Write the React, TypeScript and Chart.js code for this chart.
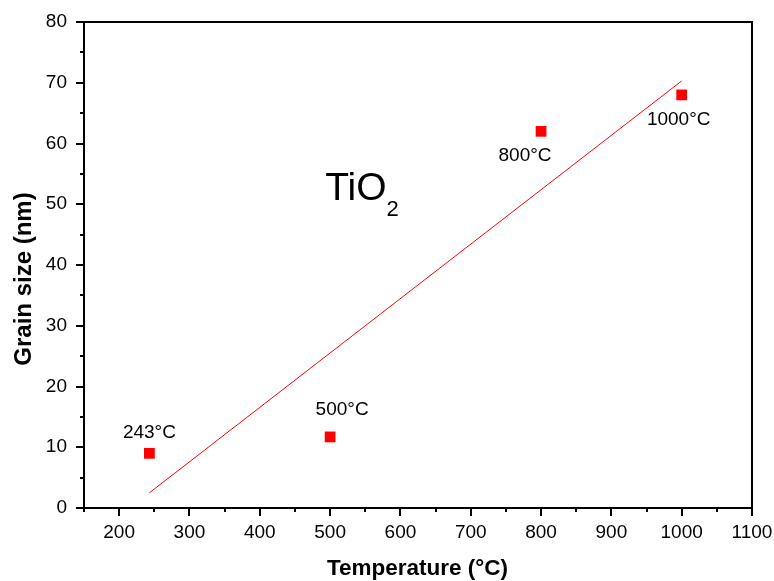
import React, { useEffect, useRef } from "react";
import { Chart, registerables } from "chart.js";

Chart.register(...registerables);

const tempC = [243, 500, 800, 1000];
const grainNm = [9.0, 11.7, 62.0, 68.0];
const pointLabels = ["243°C", "500°C", "800°C", "1000°C"];
// Linear fit line endpoints
const fitX = [243, 1000];
const fitY = [2.5, 70.3];

// Axis tick labels
const xTickValues = [200, 300, 400, 500, 600, 700, 800, 900, 1000, 1100];
const yTickValues = [0, 10, 20, 30, 40, 50, 60, 70, 80];
const xMinorTicks = [150, 250, 350, 450, 550, 650, 750, 850, 950, 1050];
const yMinorTicks = [5, 15, 25, 35, 45, 55, 65, 75];

const xTitle = "Temperature (°C)";
const yTitle = "Grain size (nm)";
const compoundMain = "TiO";
const compoundSub = "2";

const FONT = "Arial, 'Liberation Sans', sans-serif";

// label offsets (px) relative to each point
const labelOffsets = [
  [0, -21],
  [12, -27],
  [-16, 24],
  [-3, 25],
];

const overlayPlugin = {
  id: "overlay",
  afterDraw(chart: any) {
    const { ctx, chartArea } = chart;
    const xs = chart.scales.x;
    const ys = chart.scales.y;
    ctx.save();
    // frame
    ctx.strokeStyle = "#000";
    ctx.lineWidth = 2;
    ctx.strokeRect(chartArea.left, chartArea.top, chartArea.right - chartArea.left, chartArea.bottom - chartArea.top);
    // ticks
    ctx.lineWidth = 2;
    ctx.beginPath();
    const drawX = (v: number, len: number) => {
      const px = Math.round(xs.getPixelForValue(v));
      ctx.moveTo(px, chartArea.bottom);
      ctx.lineTo(px, chartArea.bottom + len);
    };
    const drawY = (v: number, len: number) => {
      const py = Math.round(ys.getPixelForValue(v));
      ctx.moveTo(chartArea.left, py);
      ctx.lineTo(chartArea.left - len, py);
    };
    xTickValues.forEach((v) => drawX(v, 8));
    xMinorTicks.forEach((v) => drawX(v, 4));
    yTickValues.forEach((v) => drawY(v, 8));
    yMinorTicks.forEach((v) => drawY(v, 4));
    ctx.stroke();

    // point labels
    ctx.fillStyle = "#000";
    ctx.font = `19px ${FONT}`;
    ctx.textAlign = "center";
    ctx.textBaseline = "middle";
    tempC.forEach((t, i) => {
      const px = xs.getPixelForValue(t) + labelOffsets[i][0];
      const py = ys.getPixelForValue(grainNm[i]) + labelOffsets[i][1];
      ctx.fillText(pointLabels[i], px, py);
    });

    // TiO2 label
    const tx = xs.getPixelForValue(493);
    const ty = ys.getPixelForValue(50.7);
    ctx.textAlign = "left";
    ctx.textBaseline = "alphabetic";
    ctx.font = `39px ${FONT}`;
    ctx.fillText(compoundMain, tx, ty);
    const w = ctx.measureText(compoundMain).width;
    ctx.font = `22px ${FONT}`;
    ctx.fillText(compoundSub, tx + w, ty + 16);

    // axis titles
    ctx.textAlign = "center";
    ctx.textBaseline = "middle";
    ctx.font = `bold 22.5px ${FONT}`;
    ctx.fillText(xTitle, 417.5, 569);
    ctx.font = `bold 24px ${FONT}`;
    ctx.save();
    ctx.translate(24, 279);
    ctx.rotate(-Math.PI / 2);
    ctx.fillText(yTitle, 0, 0);
    ctx.restore();
    ctx.restore();
  },
};

export default function App() {
  const ref = useRef<HTMLCanvasElement>(null);
  useEffect(() => {
    document.body.style.margin = "0";
    const chart = new Chart(ref.current!, {
      type: "scatter",
      data: {
        datasets: [
          {
            label: "Grain size",
            data: tempC.map((t, i) => ({ x: t, y: grainNm[i] })),
            pointStyle: "rect",
            pointRadius: 7.6,
            pointBorderWidth: 0,
            backgroundColor: "#ff0000",
            borderColor: "#ff0000",
            showLine: false,
          },
          {
            label: "Fit",
            data: fitX.map((x, i) => ({ x, y: fitY[i] })),
            showLine: true,
            borderColor: "#ff0000",
            borderWidth: 1,
            pointRadius: 0,
          },
        ],
      },
      options: {
        animation: false,
        responsive: false,
        devicePixelRatio: 1,
        layout: { padding: { top: 22, right: 22, left: 0, bottom: 0 } },
        plugins: { legend: { display: false }, tooltip: { enabled: false } },
        scales: {
          x: {
            type: "linear",
            min: 150,
            max: 1100,
            grid: { display: false, drawTicks: false },
            border: { display: false },
            afterBuildTicks: (s: any) => {
              s.ticks = xTickValues.map((v) => ({ value: v }));
            },
            afterFit: (s: any) => {
              s.height = 73;
              s.paddingLeft = 0;
              s.paddingRight = 0;
            },
            ticks: {
              padding: 13,
              color: "#000",
              maxRotation: 0,
              font: { family: FONT, size: 19 },
              callback: (v: any) => String(v),
            },
          },
          y: {
            type: "linear",
            min: 0,
            max: 80,
            grid: { display: false, drawTicks: false },
            border: { display: false },
            afterBuildTicks: (s: any) => {
              s.ticks = yTickValues.map((v) => ({ value: v }));
            },
            afterFit: (s: any) => {
              s.width = 84;
              s.paddingTop = 0;
              s.paddingBottom = 0;
            },
            ticks: {
              padding: 17,
              color: "#000",
              font: { family: FONT, size: 19 },
              callback: (v: any) => String(v),
            },
          },
        },
      },
      plugins: [overlayPlugin],
    });
    return () => chart.destroy();
  }, []);
  return (
    <div style={{ width: 774, height: 581 }}>
      <canvas ref={ref} width={774} height={581} />
    </div>
  );
}
